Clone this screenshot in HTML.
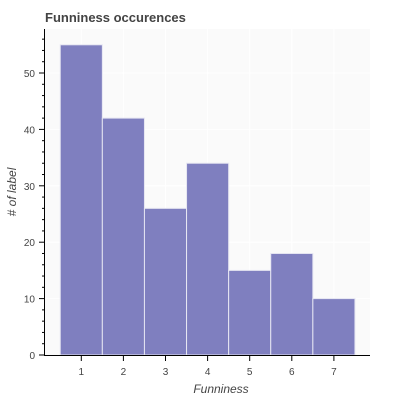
<!DOCTYPE html>
<html><head><meta charset="utf-8"><style>
body{margin:0;background:#fff;font-family:"Liberation Sans",sans-serif}
</style></head><body>
<svg id="c" width="400" height="400" xmlns="http://www.w3.org/2000/svg">
<rect x="45" y="29" width="325" height="326" fill="#fafafa"/>
<g id="grid"></g><g id="bars"></g><g id="axes"></g>
<text x="45" y="22" font-size="13" font-weight="bold" fill="#444">Funniness occurences</text>
<text x="221" y="393" font-size="12" font-style="italic" fill="#444" text-anchor="middle">Funniness</text>
<text transform="translate(16,192) rotate(-90)" font-size="12" font-style="italic" fill="#444" text-anchor="middle"># of label</text>
</svg>
<script>
const categories=[1,2,3,4,5,6,7];
const counts=[55,42,26,34,15,18,10];
const yTicks=[0,10,20,30,40,50];
const NS="http://www.w3.org/2000/svg";
const X=v=>81.3+(v-1)*42.1;
const Y=v=>355-v*5.64;
function mk(tag,attrs,parent){const e=document.createElementNS(NS,tag);for(const k in attrs)e.setAttribute(k,attrs[k]);document.getElementById(parent).appendChild(e);return e;}
yTicks.forEach(t=>{if(t>0){const g=mk('line',{x1:45,x2:370,y1:Y(t),y2:Y(t),stroke:'#fff','stroke-width':1},'grid');

}});
categories.forEach(c=>{const g=mk('line',{x1:X(c),x2:X(c),y1:29,y2:355,stroke:'#fff','stroke-width':1},'grid');

});
categories.forEach((c,i)=>{const b=mk('rect',{x:X(c-0.5),y:Y(counts[i]),width:X(c+0.5)-X(c-0.5),height:Y(0)-Y(counts[i]),fill:'#7f7fbf',stroke:'#e6e6f2','stroke-width':1},'bars');

});
const ya=mk('line',{x1:44.5,x2:44.5,y1:29,y2:355,stroke:'#000'},'axes');


const xa=mk('line',{x1:44,x2:370,y1:355.5,y2:355.5,stroke:'#000'},'axes');


for(let v=0;v<=56;v+=2){const maj=v%10===0;mk('line',{x1:maj?39:42,x2:44.5,y1:Y(v),y2:Y(v),stroke:'#000'},'axes');}
yTicks.forEach(t=>{const l=mk('text',{x:35,y:Y(t)+4,'font-size':10,fill:'#444','text-anchor':'end'},'axes');l.textContent=t;

});
categories.forEach(c=>{mk('line',{x1:X(c),x2:X(c),y1:355.5,y2:361,stroke:'#000'},'axes');
const l=mk('text',{x:X(c),y:375,'font-size':10,fill:'#444','text-anchor':'middle'},'axes');l.textContent=c;

});
</script>
</body></html>
